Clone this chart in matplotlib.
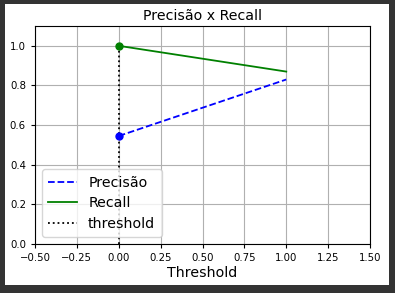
import matplotlib
matplotlib.use('Agg')
import matplotlib.pyplot as plt
from matplotlib.patches import Rectangle

# Data
thresholds = [0.0, 1.0]
precision = [0.545, 0.83]
recall = [1.0, 0.87]
threshold_x = [0.0, 0.0]
threshold_y = [0.0, 1.0]

xticks = [-0.5, -0.25, 0.0, 0.25, 0.5, 0.75, 1.0, 1.25, 1.5]
yticks = [0.0, 0.2, 0.4, 0.6, 0.8, 1.0]


def plot_precision_recall():
    fig = plt.figure(figsize=(3.95, 2.93), dpi=100)
    fig.patch.set_facecolor('#333333')
    # white canvas inside the dark frame
    fig.add_artist(Rectangle((5 / 395, 8 / 293), 384 / 395, 281 / 293,
                             transform=fig.transFigure, facecolor='white',
                             edgecolor='none', zorder=-1))

    ax = fig.add_axes([35 / 395, 49 / 293, 335 / 395, 218 / 293])

    ax.plot(thresholds, precision, 'b--', linewidth=1.3, label='Precisão')
    ax.plot(thresholds, recall, 'g-', linewidth=1.3, label='Recall')
    ax.plot(threshold_x, threshold_y, 'k:', linewidth=1.3, label='threshold')
    ax.plot(thresholds[0], precision[0], 'bo', markersize=5)
    ax.plot(thresholds[0], recall[0], 'go', markersize=5)

    ax.set_xlim(-0.5, 1.5)
    ax.set_ylim(0, 1.1)
    ax.set_xticks(xticks)
    ax.set_yticks(yticks)
    ax.tick_params(labelsize=7.3, length=3, width=0.8)
    ax.set_title('Precisão x Recall', fontsize=10.2, pad=4)
    ax.set_xlabel('Threshold', fontsize=10.2, labelpad=2)
    ax.grid(True)
    ax.legend(loc='lower left', fontsize=10.2, handlelength=2.0,
              borderpad=0.45, labelspacing=0.45)

    fig.savefig('out.png', dpi=100, facecolor=fig.get_facecolor())


if __name__ == '__main__':
    plot_precision_recall()
